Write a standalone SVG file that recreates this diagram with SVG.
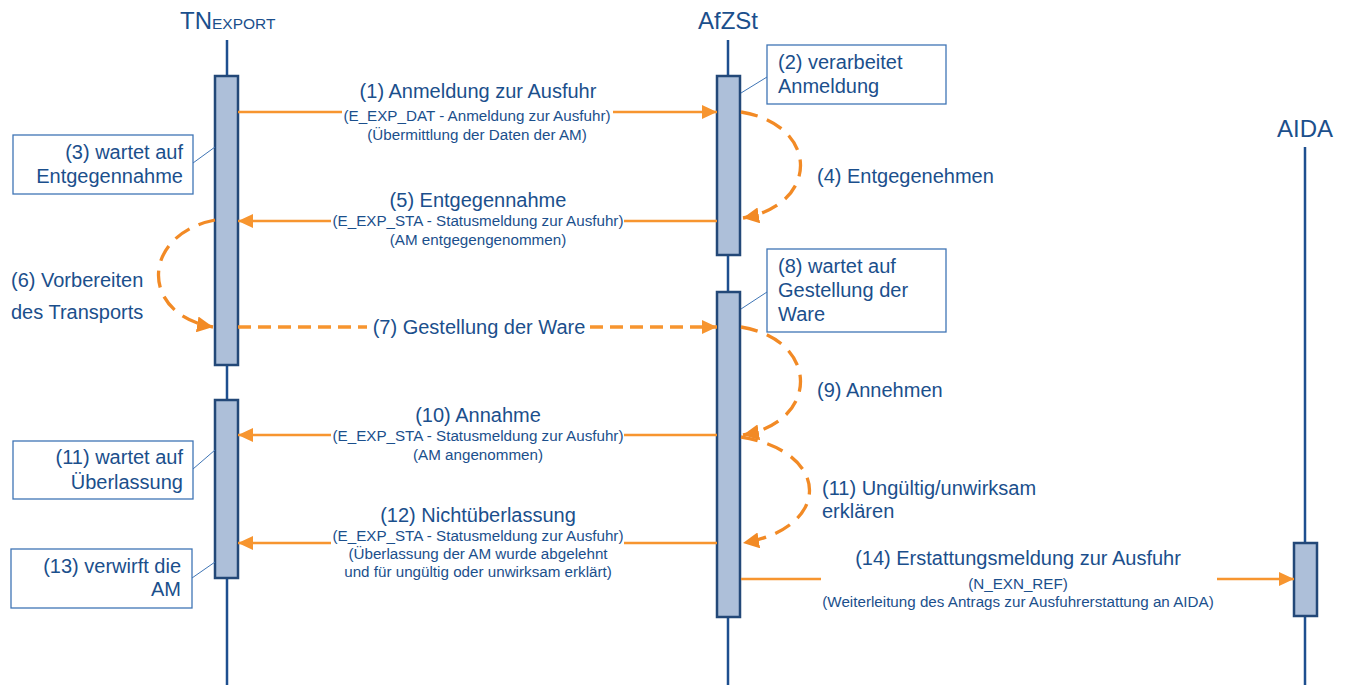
<svg xmlns="http://www.w3.org/2000/svg" width="1351" height="685" viewBox="0 0 1351 685">
  <defs>
    <marker id="head" markerUnits="userSpaceOnUse" markerWidth="16" markerHeight="14" refX="15" refY="7" orient="auto">
      <path d="M0,0 L15,7 L0,14 Z" fill="#F7952F"/>
    </marker>
    <marker id="headArc" markerUnits="userSpaceOnUse" markerWidth="18" markerHeight="16" refX="16" refY="8" orient="auto">
      <path d="M0,0 L16,8 L0,16 Z" fill="#F28A25"/>
    </marker>
    <style>
      text { font-family: "Liberation Sans", Arial, sans-serif; fill: #1B4F8C; }
      .title { font-size: 24px; }
      .big { font-size: 20px; }
      .small { font-size: 15.2px; }
      .mid { text-anchor: middle; }
      .end { text-anchor: end; }
      .life { stroke: #1E4F8F; stroke-width: 2.5; fill: none; }
      .act { fill: #ADBFD9; stroke: #234878; stroke-width: 2.5; }
      .note { fill: #FFFFFF; stroke: #3F75B5; stroke-width: 1.3; }
      .tie { stroke: #3F75B5; stroke-width: 1; fill: none; }
      .msg { stroke: #F7952F; stroke-width: 2.5; fill: none; }
      .msgdash { stroke: #F7952F; stroke-width: 3.5; fill: none; stroke-dasharray: 13 7; }
      .self { stroke: #F28A25; stroke-width: 3.3; fill: none; stroke-dasharray: 17 10; }
    </style>
  </defs>
  <rect width="1351" height="685" fill="#FFFFFF"/>

  <!-- participant: TN export -->
  <g id="tn">
    <text class="title" x="180" y="29">TN<tspan font-size="15.5px">EXPORT</tspan></text>
    <line class="life" x1="227" y1="40" x2="227" y2="685"/>
    <rect class="act" x="215" y="76" width="23" height="289"/>
    <rect class="act" x="215" y="400" width="23" height="178"/>
  </g>

  <!-- participant: AfZSt -->
  <g id="afzst">
    <text class="title mid" x="728" y="29">AfZSt</text>
    <line class="life" x1="728" y1="40" x2="728" y2="685"/>
    <rect class="act" x="717" y="76" width="23" height="179"/>
    <rect class="act" x="717" y="292" width="23" height="325"/>
  </g>

  <!-- participant: AIDA -->
  <g id="aida">
    <text class="title mid" x="1305" y="137">AIDA</text>
    <line class="life" x1="1305" y1="147" x2="1305" y2="685"/>
    <rect class="act" x="1294" y="543" width="23" height="73"/>
  </g>

  <!-- notes attached to activations -->
  <g id="note2">
    <line class="tie" x1="767" y1="77" x2="741" y2="93"/>
    <rect class="note" x="767" y="45" width="179" height="59"/>
    <text class="big" x="778" y="69">(2) verarbeitet</text>
    <text class="big" x="778" y="93">Anmeldung</text>
  </g>
  <g id="note3">
    <line class="tie" x1="193" y1="163" x2="215" y2="147"/>
    <rect class="note" x="13" y="135" width="180" height="59"/>
    <text class="big end" x="183" y="159">(3) wartet auf</text>
    <text class="big end" x="183" y="183">Entgegennahme</text>
  </g>
  <g id="note8">
    <line class="tie" x1="767" y1="292" x2="741" y2="309"/>
    <rect class="note" x="767" y="249" width="179" height="83"/>
    <text class="big" x="778" y="273">(8) wartet auf</text>
    <text class="big" x="778" y="297">Gestellung der</text>
    <text class="big" x="778" y="321">Ware</text>
  </g>
  <g id="note11">
    <line class="tie" x1="193" y1="469" x2="215" y2="450"/>
    <rect class="note" x="13" y="441" width="180" height="58"/>
    <text class="big end" x="183" y="464">(11) wartet auf</text>
    <text class="big end" x="183" y="489">Überlassung</text>
  </g>
  <g id="note13">
    <line class="tie" x1="192" y1="578" x2="215" y2="562"/>
    <rect class="note" x="11" y="549" width="181" height="59"/>
    <text class="big end" x="181" y="573">(13) verwirft die</text>
    <text class="big end" x="181" y="596">AM</text>
  </g>

  <!-- messages and self-actions -->
  <g id="connectors">
    <!-- (1) -->
    <line class="msg" x1="238" y1="112" x2="342" y2="112"/>
    <line class="msg" x1="613" y1="112" x2="717" y2="112" marker-end="url(#head)"/>
    <!-- (4) -->
    <path class="self" d="M741,112 C820,125 820,205 743,218" marker-end="url(#headArc)"/>
    <!-- (5) -->
    <line class="msg" x1="717" y1="221" x2="624" y2="221"/>
    <line class="msg" x1="331" y1="221" x2="238" y2="221" marker-end="url(#head)"/>
    <!-- (6) -->
    <path class="self" d="M215,220 C140,235 140,315 213,327" marker-end="url(#headArc)"/>
    <!-- (7) -->
    <line class="msgdash" x1="238" y1="327" x2="367" y2="327"/>
    <line class="msgdash" x1="590" y1="327" x2="717" y2="327" marker-end="url(#head)"/>
    <!-- (9) -->
    <path class="self" d="M741,327 C820,340 820,422 743,435" marker-end="url(#headArc)"/>
    <!-- (10) -->
    <line class="msg" x1="717" y1="435" x2="624" y2="435"/>
    <line class="msg" x1="331" y1="435" x2="238" y2="435" marker-end="url(#head)"/>
    <!-- (11) -->
    <path class="self" d="M741,437 C832,452 832,528 743,543" marker-end="url(#headArc)"/>
    <!-- (12) -->
    <line class="msg" x1="717" y1="543" x2="624" y2="543"/>
    <line class="msg" x1="331" y1="543" x2="238" y2="543" marker-end="url(#head)"/>
    <!-- (14) -->
    <line class="msg" x1="741" y1="579" x2="821" y2="579"/>
    <line class="msg" x1="1217" y1="579" x2="1294" y2="579" marker-end="url(#head)"/>
  </g>

  <!-- message labels -->
  <g id="labels">
    <text class="big mid" x="478" y="98">(1) Anmeldung zur Ausfuhr</text>
    <text class="small mid" x="477" y="121">(E_EXP_DAT - Anmeldung zur Ausfuhr)</text>
    <text class="small mid" x="477" y="140">(Übermittlung der Daten der AM)</text>

    <text class="big" x="817" y="183">(4) Entgegenehmen</text>

    <text class="big mid" x="478" y="207">(5) Entgegennahme</text>
    <text class="small mid" x="478" y="226">(E_EXP_STA - Statusmeldung zur Ausfuhr)</text>
    <text class="small mid" x="478" y="245">(AM entgegengenommen)</text>

    <text class="big" x="11" y="287">(6) Vorbereiten</text>
    <text class="big" x="11" y="319">des Transports</text>

    <text class="big mid" x="479" y="334">(7) Gestellung der Ware</text>

    <text class="big" x="817" y="397">(9) Annehmen</text>

    <text class="big mid" x="478" y="422">(10) Annahme</text>
    <text class="small mid" x="478" y="441">(E_EXP_STA - Statusmeldung zur Ausfuhr)</text>
    <text class="small mid" x="478" y="460">(AM angenommen)</text>

    <text class="big" x="822" y="495">(11) Ungültig/unwirksam</text>
    <text class="big" x="822" y="518">erklären</text>

    <text class="big mid" x="478" y="522">(12) Nichtüberlassung</text>
    <text class="small mid" x="478" y="541">(E_EXP_STA - Statusmeldung zur Ausfuhr)</text>
    <text class="small mid" x="478" y="559">(Überlassung der AM wurde abgelehnt</text>
    <text class="small mid" x="478" y="577">und für ungültig oder unwirksam erklärt)</text>

    <text class="big mid" x="1018" y="565">(14) Erstattungsmeldung zur Ausfuhr</text>
    <text class="small mid" x="1018" y="589">(N_EXN_REF)</text>
    <text class="small mid" x="1018" y="607">(Weiterleitung des Antrags zur Ausfuhrerstattung an AIDA)</text>
  </g>
</svg>
